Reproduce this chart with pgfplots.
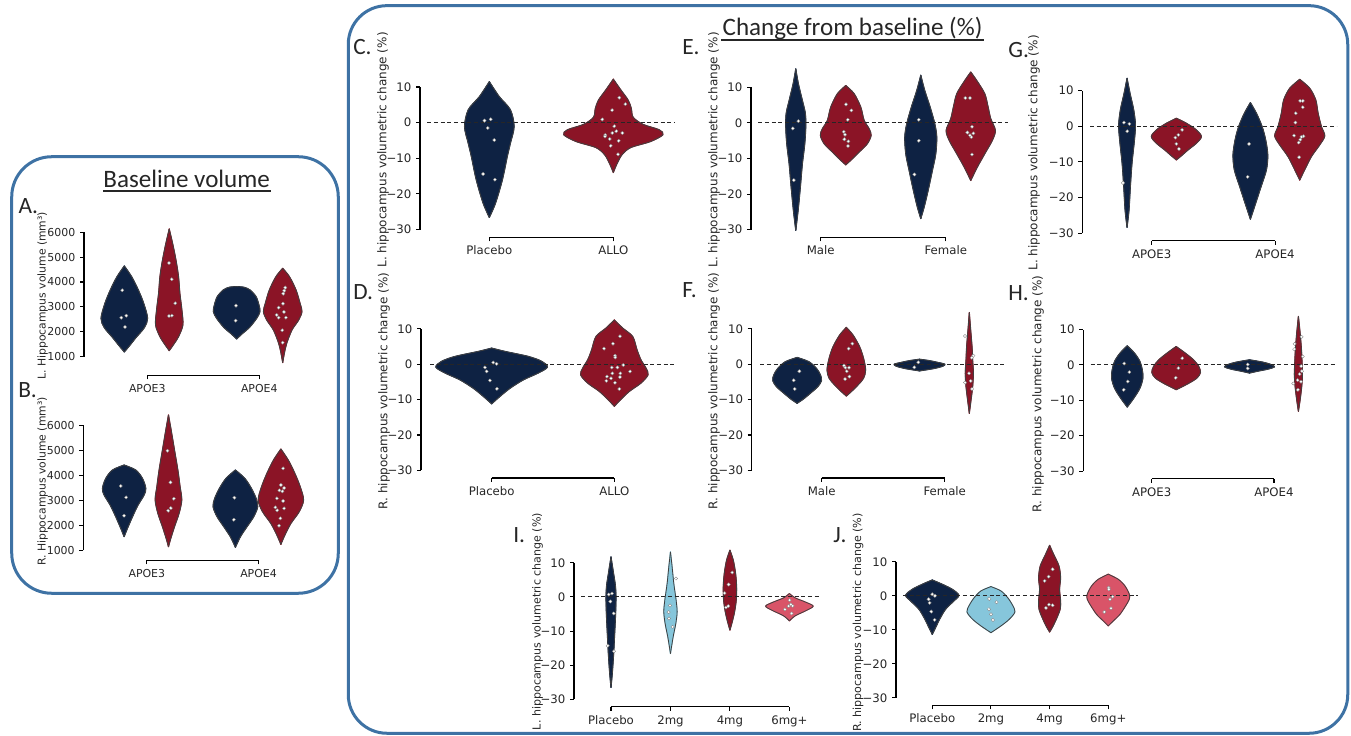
\documentclass[border=0pt]{standalone}
\usepackage{pgfplots}
\pgfplotsset{compat=1.18}
\usepackage{pgfplotstable}
\usepackage{fontspec}
\setmainfont{DejaVu Sans}
\newfontfamily\calib{Carlito}
\definecolor{navy}{RGB}{14,34,67}
\definecolor{crim}{RGB}{139,20,38}
\definecolor{lblue}{RGB}{134,198,219}
\definecolor{pinkr}{RGB}{217,84,104}
\definecolor{boxblue}{RGB}{62,114,164}
\definecolor{tcol}{RGB}{38,38,38}
\definecolor{vedge}{RGB}{64,64,64}

% ---------- violin profiles: y, half-width (in category units) ----------
\pgfplotstableread{
y w
1189 0
1430 0.045
1765 0.104
2167 0.179
2542 0.208
3145 0.173
3681 0.125
4217 0.065
4645 0
}\tAa
\pgfplotstableread{
y w
1242 0
1470 0.036
1805 0.083
2274 0.122
2877 0.113
3547 0.095
4217 0.083
4887 0.06
5557 0.03
6132 0
}\tAb
\pgfplotstableread{
y w
1711 0
1939 0.054
2167 0.113
2542 0.179
2810 0.208
3078 0.199
3413 0.173
3681 0.119
3790 0.065
3815 0
}\tAc
\pgfplotstableread{
y w
760 0
1135 0.015
1537 0.036
2073 0.083
2475 0.143
2810 0.172
3145 0.155
3681 0.119
4217 0.06
4552 0
}\tAd
\pgfplotstableread{
y w
1545 0
1879 0.03
2345 0.075
2812 0.125
3212 0.179
3479 0.194
3879 0.164
4212 0.104
4412 0
}\tBa
\pgfplotstableread{
y w
1145 0
1479 0.021
1945 0.054
2479 0.095
3012 0.119
3545 0.104
4212 0.084
5012 0.054
5812 0.024
6412 0
}\tBb
\pgfplotstableread{
y w
1119 0
1545 0.045
1945 0.104
2345 0.164
2745 0.2
3079 0.185
3479 0.143
3879 0.084
4212 0
}\tBc
\pgfplotstableread{
y w
1239 0
1612 0.036
2079 0.09
2545 0.164
3012 0.203
3545 0.173
4079 0.125
4612 0.066
5052 0
}\tBd
\pgfplotstableread{
y w
-26.6 0
-22.6 0.05
-16.1 0.105
-9.5 0.145
-5.8 0.17
-1.1 0.2
3.6 0.17
7.3 0.08
11.5 0
}\tCa
\pgfplotstableread{
y w
-14.0 0
-11.5 0.03
-9.0 0.07
-7.0 0.14
-5.3 0.30
-3.4 0.40
-2.0 0.37
-0.5 0.24
1.5 0.16
4.0 0.145
6.3 0.12
9.2 0.06
12.2 0
}\tCb
\pgfplotstableread{
y w
-11.2 0
-9.1 0.068
-6.8 0.15
-4.4 0.26
-2.5 0.38
-0.83 0.455
0.77 0.41
2.18 0.30
3.6 0.11
4.54 0
}\tDa
\pgfplotstableread{
y w
-11.9 0
-10.06 0.05
-7.7 0.122
-5.35 0.217
-3.0 0.275
-1.1 0.258
1.24 0.217
4.07 0.185
7.8 0.15
10.2 0.068
12.5 0
}\tDb
\pgfplotstableread{
y w
-30.2 0
-24.6 0.019
-18.0 0.037
-11.5 0.053
-5.9 0.072
-1.2 0.08
2.6 0.077
6.3 0.053
11.0 0.021
15.2 0
}\tEa
\pgfplotstableread{
y w
-11.8 0
-10.1 0.053
-8.2 0.107
-5.85 0.173
-3.5 0.203
-1.64 0.187
0.7 0.147
4.45 0.12
8.2 0.067
10.5 0
}\tEb
\pgfplotstableread{
y w
-26.9 0
-23.7 0.027
-19.0 0.059
-13.4 0.093
-8.7 0.12
-4.0 0.128
-0.23 0.112
4.45 0.075
9.1 0.032
13.4 0
}\tEc
\pgfplotstableread{
y w
-16.2 0
-12.4 0.053
-8.2 0.12
-4.9 0.173
-2.1 0.197
1.17 0.16
4.45 0.139
8.2 0.112
11.9 0.048
14.3 0
}\tEd
\pgfplotstableread{
y w
-11.05 0
-9.9 0.049
-8.2 0.108
-6.36 0.168
-4.65 0.198
-3.05 0.19
-1.17 0.157
0.71 0.095
1.9 0
}\tFa
\pgfplotstableread{
y w
-9.0 0
-7.77 0.04
-5.87 0.095
-3.98 0.14
-1.64 0.157
1.66 0.14
4.95 0.108
8.25 0.054
10.4 0
}\tFb
\pgfplotstableread{
y w
-1.9 0
-1.2 0.122
-0.55 0.19
0.0 0.206
0.5 0.149
1.0 0.081
1.4 0
}\tFc
\pgfplotstableread{
y w
-13.9 0
-10.1 0.014
-6.34 0.027
-2.58 0.033
1.19 0.027
4.95 0.022
9.66 0.011
14.6 0
}\tFd
\pgfplotstableread{
y w
-28.4 0
-23.5 0.016
-16.9 0.027
-10.4 0.04
-3.82 0.06
0.39 0.068
4.6 0.054
9.3 0.024
13.5 0
}\tGa
\pgfplotstableread{
y w
-9.44 0
-8.3 0.04
-6.63 0.095
-4.76 0.162
-2.89 0.203
-1.01 0.162
0.86 0.081
2.27 0
}\tGb
\pgfplotstableread{
y w
-26.1 0
-21.6 0.043
-16.9 0.087
-12.25 0.13
-8.04 0.141
-3.82 0.124
-0.07 0.095
3.67 0.049
6.67 0
}\tGc
\pgfplotstableread{
y w
-15.1 0
-12.25 0.04
-8.5 0.095
-5.23 0.162
-2.7 0.203
-0.07 0.176
3.67 0.149
7.42 0.13
10.7 0.081
13.2 0
}\tGd
\pgfplotstableread{
y w
-11.9 0
-9.38 0.054
-6.55 0.104
-3.73 0.128
-1.38 0.123
0.97 0.104
3.3 0.06
5.4 0
}\tHa
\pgfplotstableread{
y w
-7.0 0
-5.34 0.095
-3.74 0.169
-2.14 0.199
-0.44 0.185
1.44 0.142
3.51 0.068
5.2 0
}\tHb
\pgfplotstableread{
y w
-2.3 0
-1.77 0.068
-1.2 0.15
-0.55 0.204
0.1 0.177
0.78 0.109
1.44 0
}\tHc
\pgfplotstableread{
y w
-13.1 0
-9.86 0.014
-6.1 0.027
-2.8 0.033
0.5 0.03
4.27 0.025
8.97 0.014
13.7 0
}\tHd
\pgfplotstableread{
y w
-26.5 0
-22.4 0.022
-16.5 0.045
-10.7 0.062
-4.84 0.078
0.04 0.084
3.46 0.073
7.36 0.039
11.75 0
}\tIa
\pgfplotstableread{
y w
-16.6 0
-11.7 0.045
-7.77 0.09
-4.35 0.112
-0.94 0.095
3.94 0.056
8.82 0.028
13.2 0
}\tIb
\pgfplotstableread{
y w
-9.7 0
-7.28 0.039
-4.35 0.078
-0.94 0.106
2.97 0.112
6.87 0.095
10.78 0.056
13.7 0
}\tIc
\pgfplotstableread{
y w
-7.0 0
-5.5 0.1
-4.0 0.28
-2.7 0.40
-1.5 0.27
-0.3 0.1
1.0 0
}\tId
\pgfplotstableread{
y w
-11.3 0
-9.3 0.057
-6.85 0.125
-3.91 0.227
-1.46 0.369
0.2 0.454
1.97 0.34
3.44 0.17
4.7 0
}\tJa
\pgfplotstableread{
y w
-10.8 0
-8.82 0.17
-6.86 0.312
-4.7 0.409
-2.74 0.369
-0.48 0.284
1.48 0.17
2.75 0
}\tJb
\pgfplotstableread{
y w
-10.6 0
-9.3 0.045
-6.85 0.114
-3.91 0.18
-1.46 0.187
1.97 0.17
5.4 0.187
8.83 0.159
12.26 0.068
14.9 0
}\tJc
\pgfplotstableread{
y w
-8.8 0
-7.35 0.085
-5.38 0.2
-2.93 0.295
-0.97 0.358
0.5 0.358
2.95 0.284
4.9 0.17
6.4 0
}\tJd

\newcommand{\vio}[3]{%
  \addplot[fill=#2, draw=#2, line width=0.8pt, line join=round, smooth] table[x expr={#1+\thisrow{w}}, y=y]{#3} -- cycle;
  \addplot[fill=#2, draw=#2, line width=0.8pt, line join=round, smooth] table[x expr={#1-\thisrow{w}}, y=y]{#3} -- cycle;
  \addplot[draw=vedge, line width=0.6pt, smooth] table[x expr={#1+\thisrow{w}}, y=y]{#3};
  \addplot[draw=vedge, line width=0.6pt, smooth] table[x expr={#1-\thisrow{w}}, y=y]{#3};
}
\newcommand{\zeroline}[1]{%
  \addplot[black!85, line width=0.75pt, dash pattern=on 3pt off 2pt] coordinates {(-0.5,0) (#1,0)};
}
\newcommand{\frames}[3]{% last category, spine low, spine high
  \draw[black, line width=0.8pt] ({rel axis cs:0,0} |- {axis cs:0,#2}) -- ({rel axis cs:0,0} |- {axis cs:0,#3});
  \draw[black, line width=0.8pt] ({axis cs:0,0} |- {rel axis cs:0,0}) -- ({axis cs:#1,0} |- {rel axis cs:0,0});
}

\pgfplotsset{
  vstyle/.style={
    anchor=south west,
    axis lines*=left,
    axis line style={draw=none},
    tick align=outside,
    major tick length=3pt,
    tick style={line width=0.8pt, black},
    clip=false,
    tick label style={font=\fontsize{8.8}{10}\selectfont, text=tcol},
  },
  cstyle/.style={vstyle, ymin=-32.15, ymax=16, ytick={-30,-20,-10,0,10},
    yticklabels={−30,−20,−10,0,10}},
  pts/.style={only marks, mark=*, mark size=1.25pt,
    mark options={fill=white, draw=black!50, line width=0.25pt}},
}

\begin{document}
\begin{tikzpicture}
\path[use as bounding box] (0,0) rectangle (1013.25pt,551.25pt);

% frames
\draw[boxblue, line width=2.25pt, rounded corners=30pt] (8.8pt,106.3pt) rectangle (253.7pt,433.7pt);
\draw[boxblue, line width=2.25pt, rounded corners=29pt] (261.2pt,1.3pt) rectangle (1010.8pt,547.0pt);

% titles
\node[anchor=base, inner sep=0pt, text=tcol, font=\calib\fontsize{18.8}{20}\selectfont] at (140pt,410.8pt) {Baseline volume};
\draw[tcol, line width=1.4pt] (77.5pt,407.8pt) -- (203pt,407.8pt);
\node[anchor=base, inner sep=0pt, text=tcol, font=\calib\fontsize{18.8}{20}\selectfont] at (639.4pt,524.6pt) {Change from baseline (\%)};
\draw[tcol, line width=1.4pt] (541pt,521.2pt) -- (738pt,521.2pt);

% panel letters
\begin{scope}[every node/.style={anchor=base west, inner sep=0pt, text=tcol, font=\calib\fontsize{17.5}{18}\selectfont}]
\node at (13.7pt,390.75pt) {A.};
\node at (13.5pt,252.75pt) {B.};
\node at (264.75pt,510pt) {C.};
\node at (264.75pt,326.25pt) {D.};
\node at (511.5pt,510pt) {E.};
\node at (511.5pt,327.75pt) {F.};
\node at (756pt,507.75pt) {G.};
\node at (756pt,325.5pt) {H.};
\node at (384.75pt,144pt) {I.};
\node at (624.75pt,144pt) {J.};
\end{scope}

% y labels
\begin{scope}[every node/.style={rotate=90, inner sep=0pt, text=tcol}]
\node[font=\fontsize{8.1}{10}\selectfont] at (31.9pt,329.4pt) {L. Hippocampus volume (mm³)};
\node[font=\fontsize{8.1}{10}\selectfont] at (31.9pt,190pt) {R. Hippocampus volume (mm³)};
\node[font=\fontsize{9}{10}\selectfont] at (287.25pt,438.75pt) {L. hippocampus volumetric change (\%)};
\node[font=\fontsize{9}{10}\selectfont] at (288pt,258pt) {R. hippocampus volumetric change (\%)};
\node[font=\fontsize{9}{10}\selectfont] at (535.5pt,438.75pt) {L. hippocampus volumetric change (\%)};
\node[font=\fontsize{9}{10}\selectfont] at (535.5pt,258pt) {R. hippocampus volumetric change (\%)};
\node[font=\fontsize{9}{10}\selectfont] at (775.5pt,436.5pt) {L. hippocampus volumetric change (\%)};
\node[font=\fontsize{9}{10}\selectfont] at (778.5pt,255.75pt) {R. hippocampus volumetric change (\%)};
\node[font=\fontsize{8.3}{10}\selectfont] at (403.1pt,85.1pt) {L. hippocampus volumetric change (\%)};
\node[font=\fontsize{8.3}{10}\selectfont] at (643.5pt,84.4pt) {R. hippocampus volumetric change (\%)};
\end{scope}

% ---------------- A ----------------
\begin{axis}[vstyle, at={(63pt,269.8pt)}, x=84pt, y=0.01866pt,
  xmin=-0.565, xmax=1.5, ymin=252, ymax=6500,
  xtick={0,1}, xticklabels={APOE3,APOE4},
  ytick={1000,2000,3000,4000,5000,6000}, yticklabels={1000,2000,3000,4000,5000,6000},
  tick label style={font=\fontsize{8.2}{10}\selectfont}]
\vio{-0.205}{navy}{\tAa}
\vio{0.196}{crim}{\tAb}
\vio{0.798}{navy}{\tAc}
\vio{1.209}{crim}{\tAd}
\addplot[pts] coordinates {(-0.223,3668) (-0.187,2647) (-0.232,2566) (-0.199,2194)};
\addplot[pts] coordinates {(0.194,4766) (0.218,4110) (0.25,3145) (0.194,2636) (0.22,2649)};
\addplot[pts] coordinates {(0.792,3051) (0.789,2448)};
\addplot[pts] coordinates {(1.232,3775) (1.223,3654) (1.214,3533) (1.212,3131) (1.173,2971) (1.22,2797) (1.155,2676) (1.173,2569) (1.238,2569) (1.205,2060) (1.209,1564)};
\frames{1}{1000}{6000}
\end{axis}

% ---------------- B ----------------
\begin{axis}[vstyle, at={(62.5pt,131pt)}, x=83.8pt, y=0.01875pt,
  xmin=-0.568, xmax=1.5, ymin=600, ymax=6500,
  xtick={0,1}, xticklabels={APOE3,APOE4},
  ytick={1000,2000,3000,4000,5000,6000}, yticklabels={1000,2000,3000,4000,5000,6000},
  tick label style={font=\fontsize{8.2}{10}\selectfont}]
\vio{-0.203}{navy}{\tBa}
\vio{0.194}{crim}{\tBb}
\vio{0.793}{navy}{\tBc}
\vio{1.2}{crim}{\tBd}
\addplot[pts] coordinates {(-0.233,3572) (-0.185,3119) (-0.203,2385)};
\addplot[pts] coordinates {(0.185,4985) (0.212,3719) (0.242,3065) (0.215,2692) (0.191,2585)};
\addplot[pts] coordinates {(0.784,3105) (0.779,2225)};
\addplot[pts] coordinates {(1.22,4279) (1.2,3612) (1.229,3492) (1.187,3399) (1.214,3359) (1.164,3079) (1.22,2972) (1.151,2719) (1.229,2679) (1.167,2599) (1.196,2279) (1.184,1985)};
\frames{1}{1000}{6000}
\end{axis}

% ---------------- C ----------------
\begin{axis}[cstyle, at={(315pt,373.3pt)}, x=93pt, y=2.674pt,
  xmin=-0.559, xmax=1.5, xtick={0,1}, xticklabels={Placebo,ALLO}]
\vio{0}{navy}{\tCa}
\vio{1}{crim}{\tCb}
\zeroline{1.5}
\addplot[pts] coordinates {(-0.039,0.56) (0.011,0.94) (-0.013,-1.5) (0.04,-4.9) (-0.05,-14.4) (0.045,-16.0)};
\addplot[pts] coordinates {(1.048,7.0) (1.097,5.2) (0.99,3.5) (0.911,0.9) (1.008,-1.0) (1.024,-2.4) (0.992,-2.9) (1.073,-2.9) (0.935,-3.5) (0.933,-3.9) (0.971,-4.6) (1.043,-5.1) (0.979,-6.5) (1.038,-8.9)};
\frames{1}{-30}{10}
\end{axis}

% ---------------- D ----------------
\begin{axis}[cstyle, at={(315.75pt,192.75pt)}, x=92pt, y=2.655pt,
  xmin=-0.576, xmax=1.5, xtick={0,1}, xticklabels={Placebo,ALLO}]
\vio{0}{navy}{\tDa}
\vio{1}{crim}{\tDb}
\zeroline{1.5}
\addplot[pts] coordinates {(0.013,0.49) (0.04,0.11) (-0.055,-0.92) (-0.041,-2.05) (-0.014,-4.6) (0.043,-6.95)};
\addplot[pts] coordinates {(1.046,7.9) (0.989,5.8) (0.916,4.4) (1.006,2.4) (1.008,1.9) (1.073,-0.26) (0.979,-0.92) (1.025,-0.92) (1.128,-2.05) (0.984,-2.6) (1.049,-2.6) (0.94,-3.5) (1.046,-3.65) (0.973,-4.0) (0.935,-4.7) (1.005,-5.25) (1.041,-7.0)};
\frames{1}{-30}{10}
\end{axis}

% ---------------- E ----------------
\begin{axis}[cstyle, at={(563.25pt,373.3pt)}, x=93.75pt, y=2.668pt,
  xmin=-0.558, xmax=1.5, xtick={0,1}, xticklabels={Male,Female}]
\vio{-0.2}{navy}{\tEa}
\vio{0.2}{crim}{\tEb}
\vio{0.8}{navy}{\tEc}
\vio{1.2}{crim}{\tEd}
\zeroline{1.5}
\addplot[pts] coordinates {(-0.179,0.5) (-0.224,-1.55) (-0.216,-16.1)};
\addplot[pts] coordinates {(0.202,5.2) (0.245,3.5) (0.216,0.9) (0.184,-2.5) (0.194,-3.3) (0.189,-4.6) (0.221,-5.2) (0.218,-6.5)};
\addplot[pts] coordinates {(0.784,0.9) (0.784,-5.0) (0.749,-14.5)};
\addplot[pts] coordinates {(1.157,7.0) (1.194,7.0) (1.21,-1.1) (1.173,-2.7) (1.221,-2.95) (1.194,-3.5) (1.205,-4.0) (1.21,-8.9)};
\frames{1}{-30}{10}
\end{axis}

% ---------------- F ----------------
\begin{axis}[cstyle, at={(563.8pt,192.75pt)}, x=92.25pt, y=2.655pt,
  xmin=-0.569, xmax=1.5, xtick={0,1}, xticklabels={Male,Female}]
\vio{-0.2}{navy}{\tFa}
\vio{0.2}{crim}{\tFb}
\vio{0.795}{navy}{\tFc}
\vio{1.2}{crim}{\tFd}
\zeroline{1.5}
\addplot[pts] coordinates {(-0.182,-2.0) (-0.228,-4.55) (-0.22,-7.0)};
\addplot[pts] coordinates {(0.249,5.8) (0.219,4.4) (0.181,-0.41) (0.192,-0.98) (0.222,-0.98) (0.203,-2.0) (0.225,-3.5) (0.19,-4.2)};
\addplot[pts] coordinates {(0.785,0.53) (0.753,-0.88)};
\addplot[pts] coordinates {(1.165,7.97) (1.233,2.4) (1.22,1.85) (1.198,-2.58) (1.211,-4.74) (1.165,-5.2) (1.222,-7.0)};
\frames{1}{-30}{10}
\end{axis}

% ---------------- G ----------------
\begin{axis}[cstyle, at={(811.7pt,370.7pt)}, x=92.5pt, y=2.669pt,
  xmin=-0.563, xmax=1.5, xtick={0,1}, xticklabels={APOE3,APOE4}]
\vio{-0.2}{navy}{\tGa}
\vio{0.2}{crim}{\tGb}
\vio{0.8}{navy}{\tGc}
\vio{1.2}{crim}{\tGd}
\zeroline{1.5}
\addplot[pts] coordinates {(-0.225,1.05) (-0.181,0.67) (-0.198,-1.39) (-0.233,-15.9)};
\addplot[pts] coordinates {(0.246,-1.0) (0.216,-2.42) (0.192,-3.17) (0.2,-4.95) (0.221,-6.35)};
\addplot[pts] coordinates {(0.789,-4.95) (0.778,-14.2)};
\addplot[pts] coordinates {(1.203,7.14) (1.225,7.14) (1.225,5.36) (1.168,3.67) (1.165,1.05) (1.154,-2.6) (1.23,-2.8) (1.214,-2.98) (1.205,-3.73) (1.192,-4.57) (1.195,-8.7)};
\frames{1}{-30}{10}
\end{axis}

% ---------------- H ----------------
\begin{axis}[cstyle, at={(812.5pt,192.2pt)}, x=91.7pt, y=2.655pt,
  xmin=-0.559, xmax=1.5, xtick={0,1}, xticklabels={APOE3,APOE4}]
\vio{-0.2}{navy}{\tHa}
\vio{0.2}{crim}{\tHb}
\vio{0.8}{navy}{\tHc}
\vio{1.2}{crim}{\tHd}
\zeroline{1.5}
\addplot[pts] coordinates {(-0.224,0.4) (-0.183,-2.04) (-0.196,-4.68) (-0.229,-7.03)};
\addplot[pts] coordinates {(0.25,1.9) (0.218,-0.91) (0.196,-3.64)};
\addplot[pts] coordinates {(0.785,0.12) (0.785,-1.0)};
\addplot[pts] coordinates {(1.226,7.94) (1.169,5.96) (1.166,4.45) (1.235,2.38) (1.223,-0.35) (1.229,-1.76) (1.21,-2.6) (1.194,-4.3) (1.221,-4.77) (1.158,-5.24) (1.196,-7.03)};
\frames{1}{-30}{10}
\end{axis}

% ---------------- I ----------------
\begin{axis}[cstyle, at={(430.5pt,21.2pt)}, x=44.6pt, y=2.561pt,
  xmin=-0.622, xmax=3.5, xtick={0,1,2,3}, xticklabels={Placebo,2mg,4mg,6mg+}]
\vio{0}{navy}{\tIa}
\vio{1}{lblue}{\tIb}
\vio{2}{crim}{\tIc}
\vio{3}{pinkr}{\tId}
\zeroline{3.5}
\addplot[pts] coordinates {(-0.039,0.72) (0.017,1.0) (-0.011,-1.33) (0.045,-4.84) (-0.056,-14.3) (0.05,-15.9)};
\addplot[pts] coordinates {(1.092,5.4) (0.992,-2.5) (0.969,-4.45) (0.975,-6.3) (1.036,-8.75)};
\addplot[pts] coordinates {(2.039,7.16) (1.978,3.65) (1.91,1.11) (1.933,-3.08) (1.972,-2.69)};
\addplot[pts] coordinates {(3.003,-0.94) (3.025,-2.2) (3.054,-2.6) (2.987,-2.7) (2.924,-3.66) (3.037,-4.83)};
\frames{3}{-30}{10}
\end{axis}

% ---------------- J ----------------
\begin{axis}[cstyle, at={(672pt,22.3pt)}, x=44pt, y=2.55pt,
  xmin=-0.618, xmax=3.5, xtick={0,1,2,3}, xticklabels={Placebo,2mg,4mg,6mg+}]
\vio{0}{navy}{\tJa}
\vio{1}{lblue}{\tJb}
\vio{2}{crim}{\tJc}
\vio{3}{pinkr}{\tJd}
\zeroline{3.5}
\addplot[pts] coordinates {(0,0.5) (0.046,0.03) (-0.062,-0.97) (-0.045,-2.05) (-0.017,-4.6) (0.04,-7.05)};
\addplot[pts] coordinates {(0.971,-0.87) (1.096,-1.85) (0.966,-3.9) (1.0,-5.38) (1.034,-7.05)};
\addplot[pts] coordinates {(2.051,7.85) (1.983,5.7) (1.915,4.42) (1.989,-2.54) (2.051,-2.74) (1.938,-3.52)};
\addplot[pts] coordinates {(3.006,2.46) (3.011,1.97) (3.074,-0.19) (3.029,-0.97) (3.046,-3.62) (2.932,-4.7)};
\frames{3}{-30}{10}
\end{axis}
\end{tikzpicture}
\end{document}
